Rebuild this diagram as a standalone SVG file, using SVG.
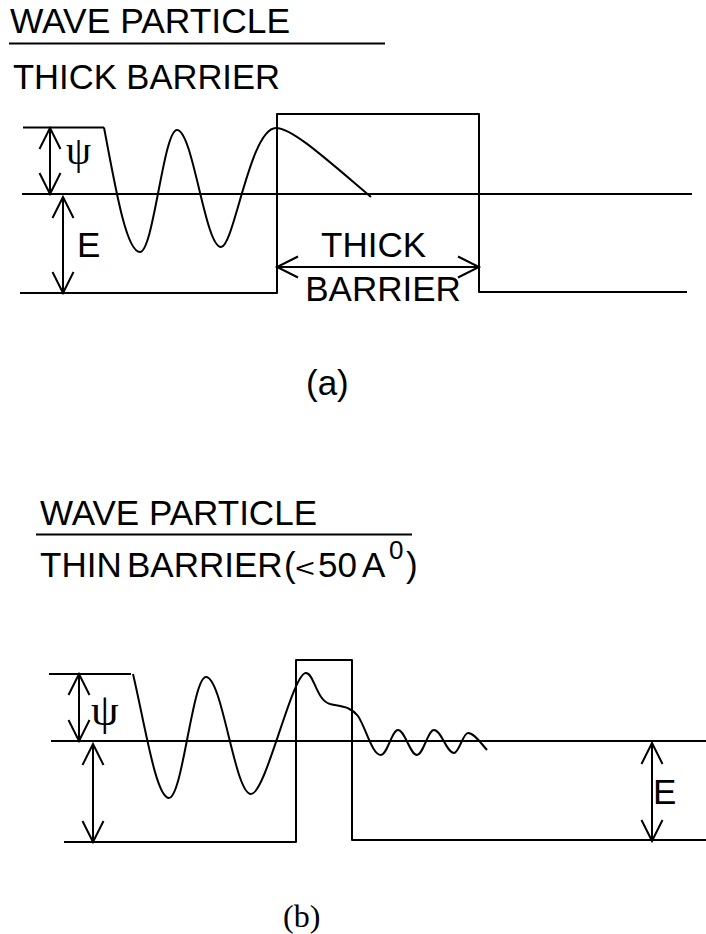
<svg xmlns="http://www.w3.org/2000/svg" width="706" height="934" viewBox="0 0 706 934">
<defs>
<style>
.ln{fill:none;stroke:#000;stroke-width:2;stroke-linejoin:round}
.ar{fill:none;stroke:#000;stroke-width:2;marker-start:url(#ah);marker-end:url(#ah)}
.t{font-family:"Liberation Sans",Arial,sans-serif;font-size:35px;fill:#000}
.s{font-family:"Liberation Serif","Times New Roman",serif;fill:#000}
</style>
<marker id="ah" viewBox="-2 -2 26 26" refX="21" refY="10.5" markerWidth="26" markerHeight="26" markerUnits="userSpaceOnUse" orient="auto-start-reverse">
<path d="M0,0 L21,10.5 L0,21" fill="none" stroke="#000" stroke-width="2"/>
</marker>
</defs>
<rect width="706" height="934" fill="#fff"/>

<g id="panel-a">
<g id="title-a">
<text class="t" x="10" y="33" textLength="280" lengthAdjust="spacingAndGlyphs">WAVE PARTICLE</text>
<line class="ln" x1="9" y1="43.5" x2="385" y2="43.5"/>
<text class="t" x="13" y="89" textLength="267" lengthAdjust="spacingAndGlyphs">THICK BARRIER</text>
</g>
<g id="potential-a">
<polyline class="ln" points="23,127.5 104,127.5"/>
<line class="ln" x1="22" y1="194" x2="692" y2="194"/>
<polyline class="ln" points="20,293 277,293 277,114 479,114 479,292 687,292"/>
</g>
<g id="wave-a">
<path class="ln" d="M104,127.5 C115,185 126,252 140,252 C153.5,252 163.5,130 177,130 C193,130 205,247 221,247 C234,247 250,128 276,128 C292,128 325,158 371,197"/>
</g>
<g id="dims-a">
<line class="ar" x1="50" y1="128" x2="50" y2="194"/>
<text class="s" x="66" y="164" font-size="40">ψ</text>
<line class="ar" x1="63" y1="197" x2="63" y2="293"/>
<text class="t" x="77" y="257" font-size="36">E</text>
<line class="ar" x1="277" y1="267" x2="479" y2="267"/>
<text class="t" x="373.5" y="257" text-anchor="middle">THICK</text>
<text class="t" x="383" y="301" text-anchor="middle">BARRIER</text>
</g>
<text class="t" x="306" y="395" font-size="34">(a)</text>
</g>

<g id="panel-b">
<g id="title-b">
<text class="t" x="40" y="525" textLength="277" lengthAdjust="spacingAndGlyphs">WAVE PARTICLE</text>
<line class="ln" x1="36" y1="534.5" x2="412" y2="534.5"/>
<text class="t" y="577"><tspan x="40">THIN</tspan><tspan x="127">BARRIER</tspan><tspan x="284">(</tspan><tspan x="295" font-size="26" textLength="20" lengthAdjust="spacingAndGlyphs">&lt;</tspan><tspan x="318">50</tspan><tspan x="362">A</tspan><tspan x="389" y="559" font-size="26">0</tspan><tspan x="406" y="577">)</tspan></text>
</g>
<g id="potential-b">
<line class="ln" x1="49" y1="674" x2="131" y2="674"/>
<line class="ln" x1="51" y1="741" x2="706" y2="741"/>
<polyline class="ln" points="64,842 296,842 296,660 352,660 352,840 706,840"/>
</g>
<g id="wave-b">
<path class="ln" d="M133,674 C145,725 156,798 169,798 C182.5,798 192.5,677 206,677 C222.4,677 234.6,794 251,794 C266,794 292,673 306,673 C314,673 316,700 330,704 C342,707 350,706 358,716 C366,728 372,755 381,755 C387.2,755 391.8,730 398,730 C404.9,730 410.1,755 417,755 C423.2,755 427.8,730 434,730 C441.3,730 446.7,753 454,753 C459,753 463,733 468,733 C474,733 480,742 487,750"/>
</g>
<g id="dims-b">
<line class="ar" x1="79" y1="674" x2="79" y2="741"/>
<text class="s" x="91" y="725" font-size="44">ψ</text>
<line class="ar" x1="93" y1="744" x2="93" y2="842"/>
<line class="ar" x1="652" y1="743" x2="652" y2="841"/>
<text class="t" x="653" y="804" font-size="34">E</text>
</g>
<text class="s" x="283" y="927" font-size="32">(b)</text>
</g>
</svg>
